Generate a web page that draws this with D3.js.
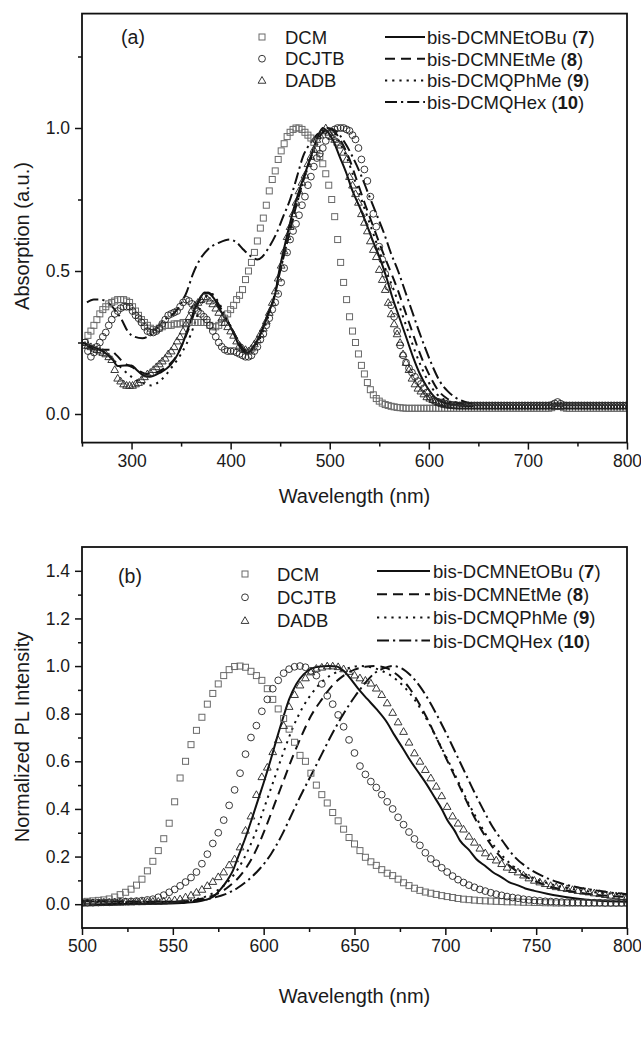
<!DOCTYPE html>
<html><head><meta charset="utf-8">
<script src="https://cdn.jsdelivr.net/npm/d3@7"></script>
<style>
body{margin:0;background:#fff}
svg{display:block}
text{font-family:"Liberation Sans",Arial,Helvetica,sans-serif;fill:#1a1a1a}
</style>
</head><body>
<svg id="c" width="641" height="1043"></svg>
<script>
// ---------- Panel (a): absorption ----------
const absWl = d3.range(253, 800, 3); // sampling wavelengths of the marker series (nm)
const absDCM = [
0.25,0.275,0.29,0.31,0.33,0.35,0.365,0.375,0.385,0.39,
0.395,0.40,0.40,0.40,0.395,0.39,0.375,0.36,0.345,0.33,
0.32,0.31,0.30,0.295,0.295,0.30,0.305,0.31,0.31,0.31,
0.315,0.315,0.315,0.32,0.32,0.32,0.32,0.32,0.32,0.32,
0.32,0.32,0.31,0.305,0.305,0.31,0.32,0.335,0.35,0.365,
0.38,0.40,0.415,0.435,0.47,0.50,0.53,0.565,0.605,0.65,
0.685,0.73,0.78,0.82,0.85,0.89,0.92,0.945,0.97,0.985,
0.995,1.0,1.0,0.995,0.985,0.975,0.965,0.95,0.925,0.90,
0.875,0.84,0.80,0.75,0.69,0.61,0.53,0.46,0.40,0.34,
0.29,0.25,0.21,0.17,0.14,0.11,0.085,0.067,0.054,0.045,
0.038,0.033,0.03,0.027,0.025,0.023,0.022,0.021,0.02,0.02,
0.02,0.02,0.02,0.02,0.02,0.02,0.02,0.02,0.02,0.02,
0.02,0.02,0.02,0.02,0.02,0.02,0.02,0.02,0.02,0.02,
0.02,0.02,0.02,0.02,0.02,0.02,0.02,0.02,0.02,0.02,
0.02,0.02,0.02,0.02,0.02,0.02,0.02,0.02,0.02,0.02,
0.02,0.02,0.02,0.02,0.02,0.02,0.02,0.022,0.026,0.03,
0.026,0.022,0.02,0.02,0.02,0.02,0.02,0.02,0.02,0.02,
0.02,0.02,0.02,0.02,0.02,0.02,0.02,0.02,0.02,0.02,
0.02,0.02,0.02];
const absDCJTB = [
0.25,0.22,0.20,0.215,0.235,0.25,0.27,0.285,0.31,0.33,
0.35,0.36,0.37,0.375,0.375,0.375,0.36,0.345,0.335,0.32,
0.305,0.29,0.285,0.285,0.29,0.30,0.315,0.33,0.345,0.35,
0.355,0.36,0.375,0.39,0.40,0.395,0.385,0.37,0.36,0.35,
0.34,0.33,0.31,0.29,0.27,0.25,0.235,0.225,0.22,0.22,
0.22,0.215,0.21,0.205,0.20,0.20,0.205,0.22,0.235,0.26,
0.28,0.31,0.335,0.365,0.39,0.42,0.46,0.51,0.565,0.61,
0.64,0.665,0.695,0.73,0.76,0.80,0.83,0.865,0.895,0.91,
0.93,0.955,0.975,0.985,0.995,1.0,1.0,1.0,0.995,0.99,
0.975,0.96,0.93,0.89,0.855,0.815,0.76,0.70,0.655,0.585,
0.54,0.49,0.445,0.38,0.34,0.29,0.24,0.205,0.18,0.16,
0.145,0.13,0.115,0.105,0.09,0.075,0.06,0.05,0.045,0.042,
0.04,0.037,0.035,0.033,0.031,0.03,0.03,0.03,0.03,0.03,
0.03,0.03,0.03,0.03,0.03,0.03,0.03,0.03,0.03,0.03,
0.03,0.03,0.03,0.03,0.03,0.03,0.03,0.03,0.03,0.03,
0.03,0.03,0.03,0.03,0.03,0.03,0.03,0.032,0.037,0.042,
0.036,0.031,0.03,0.03,0.03,0.03,0.03,0.03,0.03,0.03,
0.03,0.03,0.03,0.03,0.03,0.03,0.03,0.03,0.03,0.03,
0.03,0.03,0.03];
const absDADB = [
0.24,0.24,0.235,0.23,0.225,0.22,0.215,0.21,0.20,0.19,
0.155,0.125,0.115,0.105,0.10,0.10,0.10,0.105,0.11,0.12,
0.13,0.14,0.145,0.155,0.165,0.175,0.185,0.195,0.21,0.22,
0.235,0.255,0.27,0.29,0.315,0.34,0.365,0.38,0.39,0.40,
0.41,0.405,0.395,0.385,0.37,0.355,0.335,0.32,0.305,0.29,
0.275,0.255,0.24,0.23,0.225,0.22,0.23,0.245,0.26,0.28,
0.30,0.325,0.355,0.39,0.43,0.475,0.52,0.57,0.62,0.655,
0.70,0.74,0.78,0.81,0.835,0.875,0.90,0.925,0.96,0.975,
0.99,1.0,0.985,0.97,0.96,0.95,0.94,0.915,0.89,0.83,
0.80,0.77,0.74,0.70,0.67,0.64,0.605,0.575,0.55,0.505,
0.47,0.435,0.39,0.35,0.315,0.28,0.25,0.21,0.18,0.155,
0.125,0.105,0.09,0.08,0.07,0.06,0.055,0.05,0.045,0.04,
0.036,0.033,0.031,0.03,0.029,0.028,0.028,0.028,0.028,0.028,
0.028,0.028,0.028,0.028,0.028,0.028,0.028,0.028,0.028,0.028,
0.028,0.028,0.028,0.028,0.028,0.028,0.028,0.028,0.028,0.028,
0.028,0.028,0.028,0.028,0.028,0.028,0.028,0.028,0.028,0.028,
0.028,0.028,0.028,0.028,0.028,0.028,0.028,0.028,0.028,0.028,
0.028,0.028,0.028,0.028,0.028,0.028,0.028,0.028,0.028,0.028,
0.028,0.028,0.028];
// line series, [wavelength, absorption]
const abs7 = [[250,0.25],[261,0.235],[275,0.21],[281,0.19],[286,0.168],[293,0.17],[300,0.17],[305,0.155],[311,0.137],[318,0.13],[329,0.145],[339,0.17],[346,0.205],[352,0.25],[359,0.32],[364,0.37],[369,0.405],[374,0.425],[379,0.42],[384,0.40],[389,0.365],[396,0.33],[402,0.29],[407,0.25],[412,0.222],[417,0.215],[424,0.24],[431,0.285],[437,0.345],[445,0.42],[449,0.50],[456,0.61],[463,0.71],[470,0.79],[480,0.89],[488,0.97],[493,1.0],[497,0.99],[503,0.96],[510,0.90],[517,0.84],[523,0.78],[530,0.725],[537,0.665],[543,0.61],[550,0.55],[557,0.48],[563,0.41],[570,0.34],[577,0.27],[584,0.20],[591,0.14],[598,0.095],[607,0.055],[617,0.038],[630,0.03],[645,0.028]];
const abs8 = [[253,0.245],[265,0.225],[278,0.225],[285,0.205],[292,0.18],[300,0.165],[308,0.15],[315,0.14],[325,0.145],[335,0.165],[345,0.2],[352,0.25],[359,0.31],[365,0.37],[371,0.41],[377,0.425],[383,0.41],[390,0.37],[397,0.325],[404,0.28],[410,0.24],[416,0.22],[423,0.235],[430,0.28],[437,0.34],[444,0.41],[450,0.5],[457,0.6],[464,0.7],[472,0.8],[481,0.9],[490,0.97],[498,1.0],[504,0.99],[512,0.95],[520,0.89],[528,0.81],[536,0.73],[544,0.655],[552,0.58],[560,0.51],[568,0.44],[575,0.37],[582,0.3],[589,0.23],[596,0.17],[603,0.12],[610,0.08],[618,0.055],[628,0.04],[640,0.032]];
const abs9 = [[258,0.235],[270,0.22],[280,0.195],[290,0.16],[300,0.13],[310,0.11],[320,0.10],[330,0.12],[342,0.17],[350,0.21],[360,0.28],[368,0.36],[375,0.41],[381,0.42],[387,0.395],[394,0.35],[401,0.3],[408,0.255],[415,0.225],[422,0.225],[429,0.26],[436,0.32],[443,0.4],[450,0.5],[457,0.6],[465,0.71],[473,0.81],[482,0.9],[490,0.96],[497,0.995],[503,0.99],[510,0.95],[518,0.89],[526,0.81],[534,0.73],[542,0.65],[550,0.57],[557,0.5],[565,0.43],[572,0.36],[579,0.29],[586,0.22],[593,0.16],[600,0.11],[608,0.07],[617,0.048],[628,0.035],[640,0.03]];
const abs10 = [[255,0.39],[262,0.40],[268,0.40],[276,0.39],[283,0.365],[290,0.33],[296,0.29],[303,0.27],[311,0.265],[320,0.28],[332,0.325],[346,0.365],[356,0.43],[362,0.49],[369,0.54],[377,0.575],[389,0.60],[399,0.61],[406,0.60],[412,0.578],[421,0.55],[427,0.54],[432,0.55],[439,0.585],[446,0.63],[453,0.69],[460,0.75],[467,0.83],[473,0.90],[480,0.945],[488,0.98],[498,1.0],[506,0.99],[515,0.95],[523,0.9],[531,0.84],[539,0.77],[547,0.70],[555,0.63],[562,0.56],[569,0.5],[576,0.43],[583,0.36],[590,0.29],[597,0.225],[604,0.165],[611,0.115],[619,0.08],[627,0.057],[636,0.043],[645,0.036]];
const absXTicks = [300,400,500,600,700,800];
const absXMinor = [250,350,450,550,650,750];
const absYTicks = [0.0,0.5,1.0];
const absYMinor = [0.25,0.75,1.25];

// ---------- Panel (b): photoluminescence ----------
const plWl = d3.range(500, 801, 3);
const plDCM = [
0.01,0.012,0.014,0.016,0.018,0.022,0.03,0.04,0.05,0.063,
0.08,0.105,0.14,0.18,0.225,0.275,0.34,0.43,0.53,0.60,
0.67,0.73,0.785,0.84,0.885,0.925,0.96,0.985,0.998,1.0,
0.995,0.978,0.96,0.94,0.905,0.86,0.82,0.78,0.735,0.68,
0.625,0.60,0.55,0.50,0.46,0.425,0.385,0.35,0.315,0.28,
0.253,0.225,0.197,0.178,0.163,0.145,0.13,0.12,0.105,0.09,
0.078,0.067,0.058,0.051,0.046,0.041,0.036,0.032,0.028,0.024,
0.021,0.019,0.017,0.015,0.014,0.013,0.012,0.011,0.01,0.01,
0.009,0.008,0.008,0.007,0.007,0.006,0.006,0.005,0.005,0.005,
0.005,0.005,0.005,0.005,0.005,0.005,0.005,0.005,0.005,0.005,
0.005];
const plDCJTB = [
0.005,0.006,0.006,0.007,0.008,0.008,0.009,0.01,0.011,0.012,
0.013,0.015,0.018,0.021,0.029,0.038,0.05,0.062,0.077,0.093,
0.112,0.135,0.17,0.21,0.255,0.30,0.353,0.415,0.48,0.55,
0.63,0.70,0.75,0.81,0.86,0.905,0.94,0.97,0.987,0.997,
1.0,0.995,0.98,0.96,0.925,0.875,0.84,0.795,0.745,0.69,
0.635,0.58,0.545,0.515,0.49,0.46,0.43,0.40,0.365,0.334,
0.303,0.274,0.247,0.216,0.19,0.172,0.153,0.135,0.118,0.103,
0.091,0.08,0.071,0.062,0.055,0.048,0.042,0.037,0.032,0.028,
0.025,0.021,0.018,0.016,0.014,0.012,0.011,0.01,0.009,0.008,
0.007,0.007,0.006,0.006,0.006,0.006,0.005,0.005,0.005,0.005,
0.005];
const plDADB = [
0.005,0.005,0.006,0.006,0.007,0.007,0.008,0.008,0.009,0.009,
0.01,0.01,0.011,0.012,0.012,0.013,0.015,0.018,0.022,0.03,
0.038,0.05,0.062,0.078,0.095,0.115,0.135,0.165,0.19,0.24,
0.31,0.37,0.46,0.535,0.575,0.64,0.69,0.75,0.83,0.88,
0.92,0.95,0.975,0.99,0.995,1.0,1.0,0.997,0.988,0.977,
0.962,0.95,0.94,0.928,0.907,0.88,0.845,0.805,0.765,0.725,
0.68,0.635,0.60,0.565,0.53,0.495,0.455,0.41,0.37,0.34,
0.315,0.285,0.26,0.235,0.215,0.20,0.185,0.17,0.155,0.145,
0.135,0.122,0.11,0.10,0.093,0.086,0.078,0.073,0.069,0.065,
0.061,0.057,0.054,0.051,0.047,0.044,0.04,0.037,0.035,0.032,
0.03];
const pl7 = [[500,0.0],[540,0.002],[555,0.005],[563,0.01],[568,0.018],[572,0.03],[576,0.06],[580,0.1],[583,0.14],[586,0.2],[590,0.28],[594,0.37],[597,0.44],[600,0.51],[604,0.61],[607,0.69],[611,0.79],[614,0.86],[618,0.925],[622,0.965],[626,0.988],[631,0.998],[636,1.0],[640,0.998],[644,0.98],[648,0.945],[652,0.905],[657,0.862],[662,0.82],[668,0.762],[672,0.71],[677,0.65],[681,0.60],[686,0.545],[690,0.50],[694,0.45],[698,0.40],[701,0.355],[705,0.31],[708,0.268],[713,0.228],[717,0.19],[722,0.16],[726,0.135],[731,0.113],[735,0.093],[740,0.079],[744,0.066],[749,0.056],[756,0.044],[762,0.035],[771,0.025],[783,0.016],[800,0.01]];
const pl8 = [[500,0.015],[520,0.012],[540,0.01],[555,0.012],[567,0.025],[575,0.045],[581,0.075],[586,0.11],[591,0.16],[596,0.23],[601,0.32],[606,0.42],[611,0.52],[616,0.62],[621,0.71],[626,0.79],[632,0.86],[638,0.92],[644,0.96],[650,0.985],[656,0.997],[662,1.0],[668,0.99],[674,0.96],[680,0.91],[685,0.85],[690,0.78],[695,0.70],[700,0.62],[705,0.54],[710,0.46],[715,0.38],[720,0.31],[726,0.24],[732,0.185],[739,0.14],[747,0.105],[755,0.08],[764,0.062],[774,0.048],[785,0.038],[800,0.03]];
const pl9 = [[500,0.01],[530,0.008],[550,0.01],[561,0.018],[569,0.035],[575,0.06],[581,0.1],[586,0.15],[591,0.22],[596,0.31],[601,0.42],[606,0.53],[611,0.64],[616,0.74],[621,0.82],[627,0.89],[633,0.94],[639,0.97],[646,0.99],[653,1.0],[659,0.995],[665,0.98],[671,0.955],[677,0.915],[683,0.86],[688,0.8],[693,0.73],[698,0.655],[703,0.58],[708,0.5],[713,0.42],[718,0.35],[723,0.285],[729,0.225],[735,0.175],[742,0.135],[750,0.105],[759,0.082],[769,0.065],[779,0.053],[790,0.045],[800,0.04]];
const pl10 = [[500,0.012],[530,0.01],[550,0.01],[562,0.014],[571,0.025],[579,0.042],[586,0.07],[592,0.105],[598,0.15],[604,0.21],[610,0.29],[615,0.37],[620,0.45],[626,0.54],[632,0.63],[638,0.72],[644,0.8],[650,0.87],[656,0.93],[661,0.97],[666,0.99],[671,1.0],[676,0.99],[681,0.96],[686,0.915],[691,0.855],[696,0.785],[701,0.71],[706,0.63],[711,0.55],[716,0.47],[721,0.395],[726,0.325],[732,0.26],[738,0.2],[745,0.155],[753,0.12],[762,0.092],[772,0.072],[783,0.058],[793,0.047],[800,0.042]];
const plXTicks = [500,550,600,650,700,750,800];
const plXMinor = [525,575,625,675,725,775];
const plYTicks = [0.0,0.2,0.4,0.6,0.8,1.0,1.2,1.4];
const plYMinor = [0.1,0.3,0.5,0.7,0.9,1.1,1.3];

const markerNames = ["DCM","DCJTB","DADB"];
const lineNames = [["bis-DCMNEtOBu (","7",")"],["bis-DCMNEtMe (","8",")"],["bis-DCMQPhMe (","9",")"],["bis-DCMQHex (","10",")"]];
const lineDash = [null,"10,6","2.2,5","12,4,2.2,4"];

// ---------- drawing ----------
const svg = d3.select("#c");
const FT = 17.5, FTITLE = 20, FLEG = 18.5;

function drawMarker(g, shape, x, y){
  if(shape===0){
    g.append("rect").attr("x",x-3).attr("y",y-3).attr("width",6).attr("height",6)
      .attr("fill","none").attr("stroke","#6a6a6a").attr("stroke-width",1);
  } else if(shape===1){
    g.append("circle").attr("cx",x).attr("cy",y).attr("r",3.4)
      .attr("fill","none").attr("stroke","#222").attr("stroke-width",0.9);
  } else {
    g.append("path").attr("d",d3.symbol(d3.symbolTriangle,26)()).attr("transform",`translate(${x},${y+0.6})`)
      .attr("fill","none").attr("stroke","#222").attr("stroke-width",0.9);
  }
}

function panel(o){
  const {P} = o;
  const x = d3.scaleLinear().domain(o.xDom).range([P.l,P.r]);
  const y = d3.scaleLinear().domain(o.yDom).range([P.b,P.t]);
  const g = svg.append("g");
  const cid = "clip"+o.id;
  svg.append("clipPath").attr("id",cid).append("rect")
    .attr("x",P.l).attr("y",P.t).attr("width",P.r-P.l).attr("height",P.b-P.t);
  const plot = g.append("g").attr("clip-path",`url(#${cid})`);

  const line = d3.line().x(d=>x(d[0])).y(d=>y(d[1])).curve(d3.curveMonotoneX);
  o.lines.forEach((s,i)=>{
    plot.append("path").attr("d",line(s)).attr("fill","none").attr("stroke","#111")
      .attr("stroke-width",2).attr("stroke-dasharray",lineDash[i]).attr("stroke-linecap","butt");
  });
  o.markers.forEach((vals,si)=>{
    const mg = plot.append("g");
    vals.forEach((v,k)=>drawMarker(mg, si, x(o.wl[k]), y(v)));
  });

  g.append("g").attr("transform",`translate(0,${P.b})`)
    .call(d3.axisBottom(x).tickValues(o.xTicks).tickSize(7).tickSizeOuter(0).tickPadding(5).tickFormat(d3.format("d")));
  g.append("g").attr("transform",`translate(0,${P.b})`)
    .call(d3.axisBottom(x).tickValues(o.xMinor).tickSize(4).tickSizeOuter(0).tickFormat(""));
  g.append("g").attr("transform",`translate(${P.l},0)`)
    .call(d3.axisLeft(y).tickValues(o.yTicks).tickSize(7).tickSizeOuter(0).tickPadding(5).tickFormat(d3.format(".1f")));
  g.append("g").attr("transform",`translate(${P.l},0)`)
    .call(d3.axisLeft(y).tickValues(o.yMinor).tickSize(4).tickSizeOuter(0).tickFormat(""));
  g.selectAll(".domain").remove();
  g.selectAll(".tick line").attr("stroke","#111").attr("stroke-width",1.5);
  g.selectAll(".tick text").attr("font-size",FT).attr("fill","#1a1a1a")
    .attr("font-family","Liberation Sans, Arial, sans-serif");
  g.append("rect").attr("x",P.l).attr("y",P.t).attr("width",P.r-P.l).attr("height",P.b-P.t)
    .attr("fill","none").attr("stroke","#111").attr("stroke-width",1.8);

  g.append("text").attr("x",(P.l+P.r)/2).attr("y",o.xTitleY).attr("text-anchor","middle")
    .attr("dominant-baseline","central").attr("font-size",FTITLE).text("Wavelength (nm)");
  g.append("text").attr("transform",`translate(${o.yTitleX},${o.yTitleY}) rotate(-90)`)
    .attr("text-anchor","middle").attr("dominant-baseline","central").attr("font-size",FTITLE).text(o.yTitle);

  const L = o.leg;
  g.append("text").attr("x",L.labX).attr("y",L.labY).attr("text-anchor","middle")
    .attr("dominant-baseline","central").attr("font-size",FLEG+1).text(o.label);
  markerNames.forEach((n,i)=>{
    const yy = L.mY + i*L.mDy;
    drawMarker(g, i, L.mX, yy);
    g.append("text").attr("x",L.mTx).attr("y",yy).attr("dominant-baseline","central")
      .attr("font-size",FLEG).text(n);
  });
  lineNames.forEach((n,i)=>{
    const yy = L.lY + i*L.lDy;
    g.append("line").attr("x1",L.lX1).attr("x2",L.lX2).attr("y1",yy).attr("y2",yy)
      .attr("stroke","#111").attr("stroke-width",2).attr("stroke-dasharray",lineDash[i]);
    const t = g.append("text").attr("x",L.lTx).attr("y",yy).attr("dominant-baseline","central")
      .attr("font-size",FLEG);
    t.append("tspan").text(n[0]);
    t.append("tspan").attr("font-weight","bold").text(n[1]);
    t.append("tspan").text(n[2]);
  });
}

panel({id:"a", P:{l:82,r:627,t:13.6,b:442.6}, xDom:[250,800], yDom:[-0.1,1.4],
  xTicks:absXTicks, xMinor:absXMinor, yTicks:absYTicks, yMinor:absYMinor,
  wl:absWl, markers:[absDCM,absDCJTB,absDADB], lines:[abs7,abs8,abs9,abs10],
  xTitleY:496, yTitle:"Absorption (a.u.)", yTitleX:22, yTitleY:236, label:"(a)",
  leg:{labX:133,labY:37, mX:262,mTx:285,mY:37,mDy:21.7, lX1:385,lX2:425,lTx:427,lY:37,lDy:21.7}});

panel({id:"b", P:{l:82,r:627,t:547,b:928}, xDom:[500,800], yDom:[-0.1,1.5],
  xTicks:plXTicks, xMinor:plXMinor, yTicks:plYTicks, yMinor:plYMinor,
  wl:plWl, markers:[plDCM,plDCJTB,plDADB], lines:[pl7,pl8,pl9,pl10],
  xTitleY:996, yTitle:"Normalized PL Intensity", yTitleX:22, yTitleY:737, label:"(b)",
  leg:{labX:130,labY:576, mX:245,mTx:277,mY:574,mDy:23.3, lX1:377,lX2:430,lTx:433,lY:571,lDy:23.2}});
</script>
</body></html>
